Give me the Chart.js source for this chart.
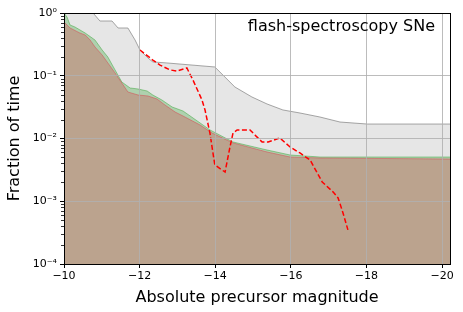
<!DOCTYPE html>
<html>
<head>
<meta charset="utf-8">
<script src="https://cdn.jsdelivr.net/npm/chart.js@4.4.0/dist/chart.umd.min.js"></script>
<style>
  html, body { margin: 0; padding: 0; background: #fff; }
</style>
</head>
<body>
<canvas id="limitChart" width="463" height="312"></canvas>
<script>
const xTicks = [-10, -12, -14, -16, -18, -20];
const yTicks = [1e-4, 1e-3, 1e-2, 1e-1, 1];
const yTickLabels = ['10⁻⁴', '10⁻³', '10⁻²', '10⁻¹', '10⁰'];

// upper envelope (grey)
const grayMag = [-10.0, -10.77, -10.95, -11.27, -11.43, -11.69, -11.88, -12.01, -12.22, -12.35, -12.72, -13.99, -14.52, -14.97, -15.37, -15.79, -16.24, -16.77, -17.30, -18.02, -20.21];
const grayFrac = [2.0, 1.0, 0.746, 0.746, 0.577, 0.577, 0.371, 0.257, 0.192, 0.166, 0.160, 0.138, 0.0662, 0.0459, 0.0355, 0.0285, 0.0255, 0.0220, 0.0183, 0.0170, 0.0170];

const greenMag = [-10.0, -10.08, -10.16, -10.29, -10.56, -10.82, -11.01, -11.16, -11.35, -11.53, -11.75, -11.96, -12.20, -12.35, -12.59, -12.86, -13.15, -13.60, -13.86, -14.47, -15.37, -15.98, -16.77, -20.21];
const greenFrac = [1.0, 0.863, 0.644, 0.598, 0.480, 0.371, 0.257, 0.199, 0.124, 0.0795, 0.0638, 0.0615, 0.0571, 0.0493, 0.0411, 0.0318, 0.0274, 0.0177, 0.0137, 0.0088, 0.00656, 0.00546, 0.00507, 0.00507];

const redMag = [-10.0, -10.16, -10.42, -10.56, -10.69, -10.82, -11.01, -11.16, -11.35, -11.53, -11.69, -11.96, -12.22, -12.46, -12.67, -12.94, -13.15, -13.60, -13.92, -14.47, -15.37, -15.98, -16.77, -20.21];
const redFrac = [0.719, 0.577, 0.480, 0.446, 0.371, 0.287, 0.214, 0.160, 0.111, 0.0766, 0.0551, 0.0493, 0.0476, 0.0426, 0.0342, 0.0264, 0.0228, 0.0164, 0.0122, 0.0085, 0.00610, 0.00507, 0.00489, 0.00471];

// dashed curve
const flashMag = [-12.01, -12.35, -12.54, -12.80, -12.99, -13.25, -13.41, -13.65, -13.73, -13.86, -13.94, -13.99, -14.26, -14.39, -14.47, -14.58, -14.92, -15.05, -15.24, -15.40, -15.71, -15.98, -16.24, -16.51, -16.83, -17.12, -17.25, -17.38, -17.51];
const flashFrac = [0.257, 0.178, 0.148, 0.124, 0.119, 0.133, 0.0856, 0.0411, 0.0285, 0.0122, 0.00588, 0.00378, 0.00292, 0.00732, 0.0122, 0.0137, 0.0137, 0.0114, 0.0088, 0.0088, 0.0102, 0.00732, 0.00588, 0.00454, 0.00203, 0.00140, 0.00113, 0.00065, 0.00035];

const panelLabel = 'flash-spectroscopy SNe';

function toPoints(xs, ys) {
  return xs.map((x, i) => ({ x: x, y: ys[i] }));
}

const FONT = "'DejaVu Sans', sans-serif";

const framePlugin = {
  id: 'frame',
  afterDraw(chart) {
    const { ctx, chartArea: a, scales } = chart;
    ctx.save();
    // minor log ticks on y
    ctx.strokeStyle = '#000';
    ctx.lineWidth = 0.8;
    for (let k = -4; k < 0; k++) {
      for (let m = 2; m <= 9; m++) {
        const py = Math.round(scales.y.getPixelForValue(m * Math.pow(10, k))) + 0.5;
        ctx.beginPath();
        ctx.moveTo(a.left - 3, py);
        ctx.lineTo(a.left, py);
        ctx.stroke();
      }
    }
    ctx.lineWidth = 1;
    ctx.strokeRect(Math.round(a.left) + 0.5, Math.round(a.top) + 0.5, Math.round(a.right - a.left), Math.round(a.bottom - a.top));
    ctx.fillStyle = '#000';
    ctx.font = '16px ' + FONT;
    ctx.textAlign = 'right';
    ctx.textBaseline = 'alphabetic';
    ctx.fillText(panelLabel, a.right - 15, a.top + 18);
    ctx.restore();
  }
};

new Chart(document.getElementById('limitChart'), {
  type: 'line',
  data: {
    datasets: [
      {
        data: toPoints(flashMag, flashFrac),
        borderColor: '#ff0000',
        borderWidth: 1.5,
        borderDash: [5, 2.5],
        pointRadius: 0,
        fill: false,
        order: 1
      },
      {
        data: toPoints(redMag, redFrac),
        borderColor: 'rgba(220, 55, 70, 0.45)',
        backgroundColor: 'rgba(220, 55, 70, 0.3)',
        borderWidth: 1,
        pointRadius: 0,
        fill: 'start',
        order: 2
      },
      {
        data: toPoints(greenMag, greenFrac),
        borderColor: 'rgba(44, 160, 44, 0.45)',
        backgroundColor: 'rgba(44, 160, 44, 0.3)',
        borderWidth: 1,
        pointRadius: 0,
        fill: 'start',
        order: 3
      },
      {
        data: toPoints(grayMag, grayFrac),
        borderColor: 'rgba(110, 110, 110, 0.6)',
        backgroundColor: 'rgba(128, 128, 128, 0.2)',
        borderWidth: 1,
        pointRadius: 0,
        fill: 'start',
        order: 4
      }
    ]
  },
  options: {
    responsive: false,
    animation: false,
    devicePixelRatio: 1,
    layout: { padding: { top: 13, right: 13, left: 0, bottom: 0 } },
    plugins: {
      legend: { display: false },
      tooltip: { enabled: false }
    },
    scales: {
      x: {
        type: 'linear',
        reverse: true,
        min: -20.21,
        max: -10,
        afterBuildTicks: scale => { scale.ticks = xTicks.map(v => ({ value: v })); },
        afterFit: scale => { scale.height = 48; },
        grid: { z: 1, color: 'rgba(176, 176, 176, 0.85)', lineWidth: 1, tickColor: '#000', tickLength: 4 },
        border: { z: 2, color: '#000', width: 1 },
        ticks: {
          color: '#000',
          padding: 2,
          maxRotation: 0,
          font: { family: FONT, size: 11 },
          callback: v => '\u2212' + Math.abs(v)
        },
        title: {
          display: true,
          text: 'Absolute precursor magnitude',
          color: '#000',
          font: { family: FONT, size: 16 },
          padding: { top: 0, bottom: 5 }
        }
      },
      y: {
        type: 'logarithmic',
        min: 1e-4,
        max: 1,
        afterBuildTicks: scale => { scale.ticks = yTicks.map(v => ({ value: v })); },
        afterFit: scale => { scale.width = 64; },
        grid: { z: 1, color: 'rgba(176, 176, 176, 0.85)', lineWidth: 1, tickColor: '#000', tickLength: 4 },
        border: { z: 2, color: '#000', width: 1 },
        ticks: {
          color: '#000',
          padding: 3,
          font: { family: FONT, size: 11 },
          callback: v => {
            const i = yTicks.findIndex(t => Math.abs(Math.log10(t) - Math.log10(v)) < 1e-6);
            return i >= 0 ? yTickLabels[i] : '';
          }
        },
        title: {
          display: true,
          text: 'Fraction of time',
          color: '#000',
          font: { family: FONT, size: 16 },
          padding: { top: 5, bottom: 0 }
        }
      }
    }
  },
  plugins: [framePlugin]
});
</script>
</body>
</html>
